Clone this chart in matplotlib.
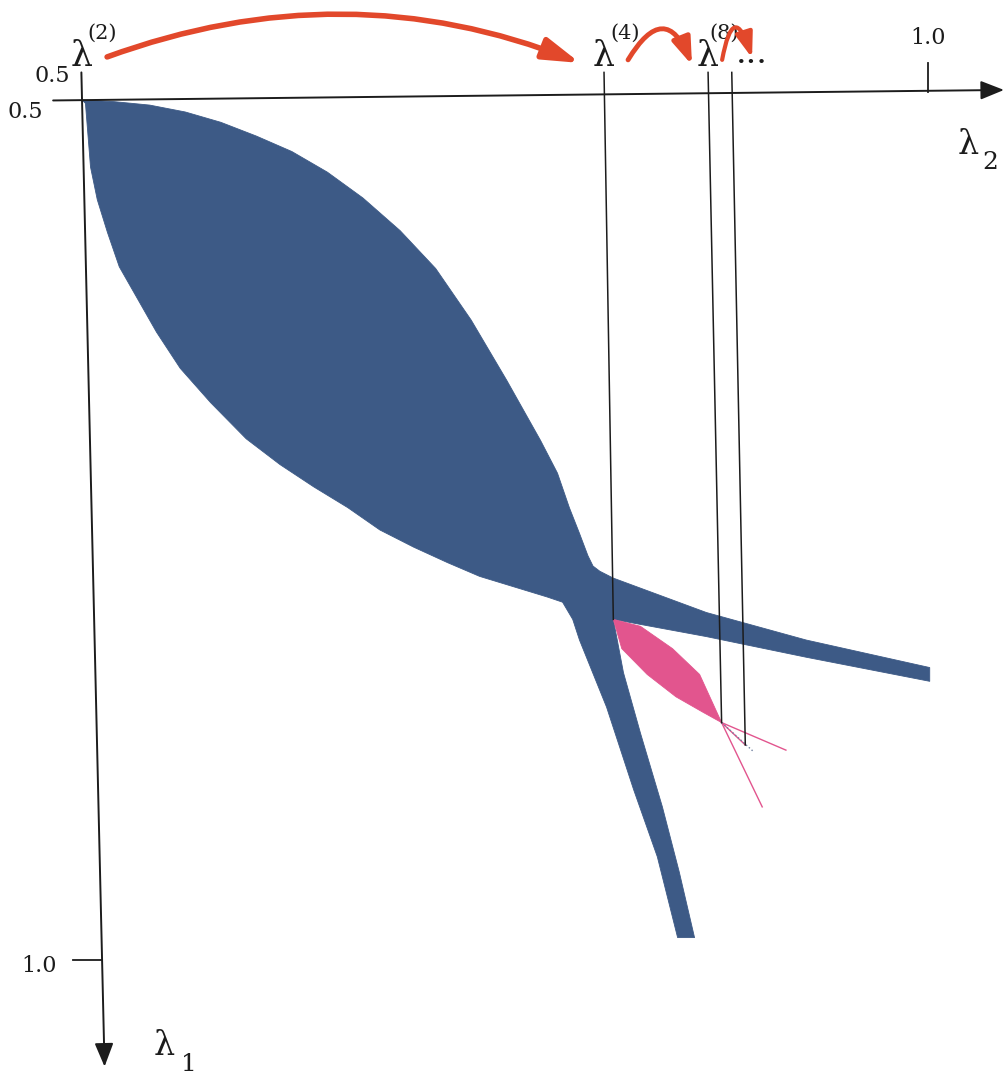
#!/usr/bin/env python3
"""
Diagrama de regiones de periodo 2, 4, 8 ... en el plano (lambda_2, lambda_1)
Se dibuja la region azul (hoja + dos ramas) y la rosada (periodo 4)
"""

import numpy as np
import matplotlib.pyplot as plt
from matplotlib.patches import Polygon, FancyArrowPatch
from matplotlib.transforms import offset_copy

plt.rcParams['font.family'] = ['DejaVu Serif']

# ==============================================================================
# Datos (lambda_2 en x, lambda_1 en y)
# ==============================================================================
# hoja grande, borde superior (de izquierda a derecha)
leaf_top_l2 = [0.500, 0.519, 0.540, 0.561, 0.582, 0.603, 0.624, 0.645, 0.666,
               0.688, 0.709, 0.730, 0.751, 0.771, 0.781, 0.788, 0.794, 0.799,
               0.802]
leaf_top_l1 = [0.500, 0.501, 0.503, 0.507, 0.513, 0.521, 0.530, 0.542, 0.557,
               0.576, 0.598, 0.628, 0.663, 0.698, 0.717, 0.737, 0.752, 0.765,
               0.771]
# hoja grande, borde inferior (de izquierda a derecha)
leaf_bot_l2 = [0.502, 0.505, 0.509, 0.515, 0.522, 0.533, 0.544, 0.558, 0.576,
               0.597, 0.617, 0.637, 0.657, 0.676, 0.696, 0.716, 0.735, 0.755,
               0.775, 0.784]
leaf_bot_l1 = [0.502, 0.539, 0.558, 0.577, 0.597, 0.616, 0.635, 0.656, 0.676,
               0.697, 0.712, 0.725, 0.737, 0.750, 0.760, 0.769, 0.777, 0.783,
               0.789, 0.792]
# rama hacia la derecha
br_right_top_l2 = [0.806, 0.814, 0.869, 0.928, 1.001]
br_right_top_l1 = [0.774, 0.778, 0.798, 0.814, 0.830]
br_right_bot_l2 = [0.814, 0.869, 0.928, 1.001]
br_right_bot_l1 = [0.802, 0.812, 0.824, 0.838]
# rama hacia abajo
br_down_left_l2 = [0.790, 0.794, 0.810, 0.826, 0.840, 0.852]
br_down_left_l1 = [0.802, 0.814, 0.853, 0.901, 0.940, 0.987]
br_down_right_l2 = [0.814, 0.820, 0.830, 0.843, 0.853, 0.862]
br_down_right_l1 = [0.802, 0.833, 0.868, 0.911, 0.949, 0.987]

# region de periodo 4 (rosada)
lens_top_l2 = [0.814, 0.830, 0.849, 0.865, 0.878]
lens_top_l1 = [0.802, 0.806, 0.819, 0.834, 0.862]
lens_bot_l2 = [0.814, 0.819, 0.834, 0.851, 0.867, 0.878]
lens_bot_l1 = [0.802, 0.819, 0.834, 0.847, 0.856, 0.862]
# hilos finos despues de lambda(8)
thread_l2 = [0.916, 0.902, 0.892]
thread_l1 = [0.878, 0.911, 0.875]
thread_gray = (0.897, 0.879)

# puntos de bifurcacion y etiquetas lambda^(n)
bif_l2 = [0.814, 0.878, 0.892]
bif_l1 = [0.802, 0.862, 0.875]
guide_top_l2 = [0.8085, 0.870, 0.884]
guide_top_l1 = 0.484
lam_labels = ['(2)', '(4)', '(8)']
lam_label_l2 = [0.4996, 0.8085, 0.870]

# ==============================================================================
# Figura
# ==============================================================================
fig = plt.figure(figsize=(10.04, 10.74), dpi=100)
ax = fig.add_axes([0, 0, 1, 1])
ax.set_xlim(0.4515, 1.0449)
ax.set_ylim(1.0663, 0.4419)
ax.axis('off')

blue = '#3d5a86'
pink = '#e2558e'
red = '#e2482b'
ink = '#1c1c1c'

poly_l2 = (leaf_top_l2 + br_right_top_l2 + br_right_bot_l2[::-1]
           + br_down_right_l2[1:] + br_down_left_l2[::-1] + leaf_bot_l2[::-1])
poly_l1 = (leaf_top_l1 + br_right_top_l1 + br_right_bot_l1[::-1]
           + br_down_right_l1[1:] + br_down_left_l1[::-1] + leaf_bot_l1[::-1])
ax.add_patch(Polygon(np.column_stack((poly_l2, poly_l1)), closed=True,
                     facecolor=blue, edgecolor=blue, lw=0.6,
                     joinstyle='round', zorder=2))

lens_l2 = lens_top_l2 + lens_bot_l2[::-1]
lens_l1 = lens_top_l1 + lens_bot_l1[::-1]
ax.add_patch(Polygon(np.column_stack((lens_l2, lens_l1)), closed=True,
                     facecolor=pink, edgecolor=pink, lw=0.6, zorder=3))

for i in range(len(thread_l2)):
    ax.plot([bif_l2[1], thread_l2[i]], [bif_l1[1], thread_l1[i]],
            color=pink, lw=1.0, zorder=3)
ax.plot([bif_l2[1], thread_gray[0]], [bif_l1[1], thread_gray[1]],
        color='#7080a0', lw=1.0, ls=':', zorder=3)

# lineas guia verticales
for i in range(len(bif_l2)):
    ax.plot([guide_top_l2[i], bif_l2[i]], [guide_top_l1, bif_l1[i]],
            color=ink, lw=1.1, zorder=4)

# ejes
ax.annotate('', xy=(1.0449, 0.4942), xytext=(0.4829, 0.5003),
            arrowprops=dict(arrowstyle='-|>,head_length=0.4,head_width=0.16',
                            mutation_scale=36, lw=1.4, color=ink,
                            shrinkA=0, shrinkB=0), zorder=5)
ax.annotate('', xy=(0.5133, 1.062), xytext=(0.4996, 0.484),
            arrowprops=dict(arrowstyle='-|>,head_length=0.4,head_width=0.16',
                            mutation_scale=36, lw=1.4, color=ink,
                            shrinkA=0, shrinkB=0), zorder=5)
ax.plot([1.0, 1.0], [0.4785, 0.4953], color=ink, lw=1.3)
ax.plot([0.4947, 0.5118], [1.0, 1.0], color=ink, lw=1.3)


def txt(l2, l1, s, dx=0, dy=0, **kw):
    tr = offset_copy(ax.transData, fig=fig, x=dx, y=dy, units='dots')
    ax.text(l2, l1, s, transform=tr, color=ink, **kw)


txt(0.5, 0.5, '0.5', dx=-39, dy=-18, fontsize=16, ha='right', va='baseline')
txt(0.5, 0.5, '0.5', dx=-12, dy=18, fontsize=16, ha='right', va='baseline')
txt(1.0, 0.4785, '1.0', dy=19, fontsize=16, ha='center', va='baseline')
txt(0.4947, 1.0, '1.0', dx=-16, dy=-12, fontsize=16, ha='right', va='baseline')

# etiquetas de los ejes
txt(1.0449, 0.4942, 'λ', dx=-46, dy=-64, fontsize=24, ha='left', va='baseline')
txt(1.0449, 0.4942, '2', dx=-22, dy=-79, fontsize=18, ha='left', va='baseline')
txt(0.5133, 1.062, 'λ', dx=49, dy=12, fontsize=24, ha='left', va='baseline')
txt(0.5133, 1.062, '1', dx=76, dy=-4, fontsize=18, ha='left', va='baseline')

# etiquetas lambda^(n)
sup_dx = [6, 6, 1]
for i in range(len(lam_labels)):
    txt(lam_label_l2[i], guide_top_l1, 'λ', dy=6, fontsize=25,
        ha='center', va='baseline')
    txt(lam_label_l2[i], guide_top_l1, lam_labels[i], dx=sup_dx[i], dy=34,
        fontsize=15, ha='left', va='baseline')
txt(guide_top_l2[2], guide_top_l1, '...', dx=4, dy=9, fontsize=24,
    ha='left', va='baseline')

# flechas rojas
arr_start = [(0.5148, 0.4750), (0.8227, 0.4767), (0.8783, 0.4767)]
arr_end = [(0.7943, 0.4785), (0.8605, 0.4797), (0.8960, 0.4756)]
arr_rad = [-0.19, -1.0, -2.0]
arr_lw = [4.0, 3.5, 3.0]
arr_head = [(1.1, 0.33), (0.8, 0.28), (0.75, 0.26)]
for i in range(len(arr_start)):
    style = '-|>,head_length=%g,head_width=%g' % arr_head[i]
    a = FancyArrowPatch(arr_start[i], arr_end[i],
                        connectionstyle='arc3,rad=%g' % arr_rad[i],
                        arrowstyle=style, mutation_scale=20, lw=arr_lw[i],
                        color=red, shrinkA=0, shrinkB=0, zorder=6)
    ax.add_patch(a)

plt.savefig('out.png', dpi=100)
